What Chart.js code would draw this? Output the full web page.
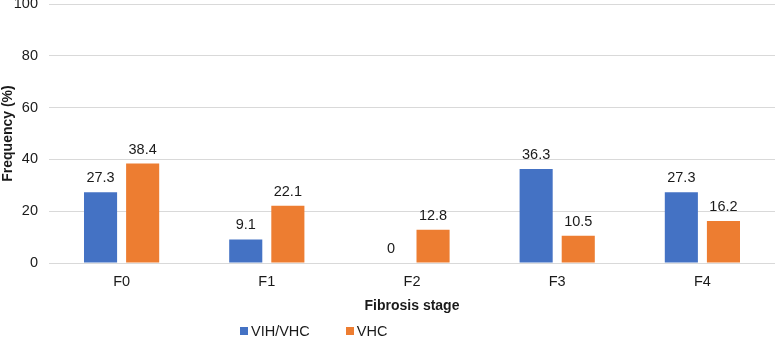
<!DOCTYPE html>
<html>
<head>
<meta charset="utf-8">
<script src="https://cdn.jsdelivr.net/npm/chart.js@4"></script>
<style>
  html, body { margin: 0; padding: 0; background: #fff; }
  #wrap { position: relative; width: 778px; height: 337px; }
  #legend { position: absolute; left: 240px; top: 323px; font: 14.5px "Liberation Sans", Arial, sans-serif; color: #1a1a1a; white-space: nowrap; }
  #legend span.item { display: inline-block; margin-right: 36px; }
  #legend i { display: inline-block; width: 8px; height: 8px; margin-right: 3px; vertical-align: 1px; }
</style>
</head>
<body>
<div id="wrap">
  <canvas id="chart" width="778" height="337"></canvas>
  <div id="legend"></div>
</div>
<script>
// --- data ---
const stages = ['F0', 'F1', 'F2', 'F3', 'F4'];
const vihVhc = [27.3, 9.1, 0, 36.3, 27.3];
const vhc = [38.4, 22.1, 12.8, 10.5, 16.2];
const yTicks = [0, 20, 40, 60, 80, 100];

const seriesNames = ['VIH/VHC', 'VHC'];
const seriesColors = ['#4472C4', '#ED7D31'];
const textColor = '#1a1a1a';
const fontFamily = '"Liberation Sans", Arial, sans-serif';

// value labels above bars
const barLabels = {
  id: 'barLabels',
  afterDatasetsDraw(chart) {
    const ctx = chart.ctx;
    ctx.save();
    ctx.font = '14.5px ' + fontFamily;
    ctx.fillStyle = textColor;
    ctx.textAlign = 'center';
    ctx.textBaseline = 'alphabetic';
    chart.data.datasets.forEach((ds, i) => {
      chart.getDatasetMeta(i).data.forEach((bar, j) => {
        ctx.fillText(String(ds.data[j]), bar.x, bar.y - 10);
      });
    });
    ctx.restore();
  }
};

new Chart(document.getElementById('chart').getContext('2d'), {
  type: 'bar',
  data: {
    labels: stages,
    datasets: [
      { label: seriesNames[0], data: vihVhc, backgroundColor: seriesColors[0] },
      { label: seriesNames[1], data: vhc, backgroundColor: seriesColors[1] }
    ]
  },
  options: {
    responsive: false,
    animation: false,
    categoryPercentage: 0.58,
    barPercentage: 0.786,
    layout: { padding: { top: 4, right: 3, left: 0, bottom: 0 } },
    plugins: { legend: { display: false }, tooltip: { enabled: false } },
    scales: {
      x: {
        grid: { display: false },
        border: { display: false },
        ticks: { color: textColor, padding: 2, font: { size: 14.5, family: fontFamily } },
        title: { display: true, text: 'Fibrosis stage', color: textColor, padding: { top: 0, bottom: 22 }, font: { size: 14, weight: 'bold', family: fontFamily } },
        afterFit(scale) { scale.height = 74; scale.paddingLeft = 0; scale.paddingRight = 0; }
      },
      y: {
        min: 0,
        max: 100,
        afterBuildTicks(scale) { scale.ticks = yTicks.map(v => ({ value: v })); },
        grid: { color: '#d9d9d9', lineWidth: 1, drawTicks: false },
        border: { display: false },
        ticks: { color: textColor, padding: 11, font: { size: 14.5, family: fontFamily } },
        title: { display: true, text: 'Frequency (%)', color: textColor, padding: { top: 0, bottom: 0 }, font: { size: 14, weight: 'bold', family: fontFamily } },
        afterFit(scale) { scale.width = 49; scale.paddingTop = 0; scale.paddingBottom = 0; }
      }
    }
  },
  plugins: [barLabels]
});

// legend as html
const legendEl = document.getElementById('legend');
seriesNames.forEach((name, i) => {
  const item = document.createElement('span');
  item.className = 'item';
  const sw = document.createElement('i');
  sw.style.background = seriesColors[i];
  item.appendChild(sw);
  item.appendChild(document.createTextNode(name));
  legendEl.appendChild(item);
});
</script>
</body>
</html>
